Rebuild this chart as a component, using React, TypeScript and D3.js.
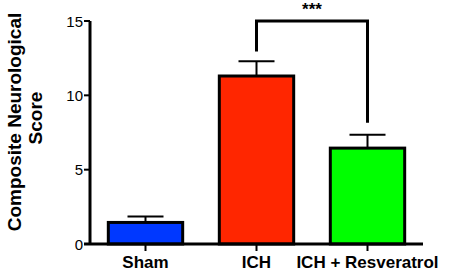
import React from "react";
import * as d3 from "d3";

const categories = ["Sham", "ICH", "ICH + Resveratrol"];
const means = [1.45, 11.3, 6.45];
const sems = [0.4, 1.0, 0.9];
const colors = ["#0038FF", "#FF2600", "#00FF00"];
const yTicks = [0, 5, 10, 15];

const W = 450, H = 273;
const x0 = 90, x1 = 423, yTop = 21, yBot = 244;

export default function App() {
  const x = d3.scaleBand<string>().domain(categories).range([x0, x1]).paddingInner(0.33).paddingOuter(0.165);
  const y = d3.scaleLinear().domain([0, 15]).range([yBot, yTop]);
  const font = "Arial, 'Liberation Sans', sans-serif";
  const bw = x.bandwidth();
  const cx = (c: string) => (x(c) as number) + bw / 2;
  const bx1 = cx("ICH"), bx2 = cx("ICH + Resveratrol");
  return (
    <svg width={W} height={H} style={{ position: "absolute", left: 0, top: 0 }} fontFamily={font}>
      <rect width={W} height={H} fill="#fff" />
      {categories.map((c, i) => (
        <g key={c}>
          <line x1={cx(c)} x2={cx(c)} y1={y(means[i])} y2={y(means[i] + sems[i])} stroke="#000" strokeWidth={2} />
          <line x1={cx(c) - 18} x2={cx(c) + 18} y1={y(means[i] + sems[i])} y2={y(means[i] + sems[i])} stroke="#000" strokeWidth={2} />
          <rect x={x(c)} y={y(means[i])} width={bw} height={yBot - y(means[i])} fill={colors[i]} stroke="#000" strokeWidth={3} />
          <line x1={cx(c)} x2={cx(c)} y1={yBot} y2={yBot + 7} stroke="#000" strokeWidth={2} />
          <text x={cx(c)} y={268} textAnchor="middle" fontWeight="bold" fontSize={17}>{c}</text>
        </g>
      ))}
      <line x1={x0} x2={x0} y1={yTop} y2={yBot} stroke="#000" strokeWidth={3} />
      <line x1={x0 - 6} x2={x1} y1={yBot} y2={yBot} stroke="#000" strokeWidth={3} />
      {yTicks.map((t) => (
        <g key={t}>
          <line x1={x0 - 6} x2={x0} y1={y(t)} y2={y(t)} stroke="#000" strokeWidth={2} />
          <text x={x0 - 7} y={y(t) + 5.5} textAnchor="end" fontSize={15}>{t}</text>
        </g>
      ))}
      <path d={`M${bx1},${y(12.95)}V${y(15)}H${bx2}V${y(8.15)}`} fill="none" stroke="#000" strokeWidth={3} />
      <text x={(bx1 + bx2) / 2} y={15} textAnchor="middle" fontWeight="bold" fontSize={17}>***</text>
      <text transform={`translate(21,122) rotate(-90)`} textAnchor="middle" fontWeight="bold" fontSize={19}>Composite Neurological</text>
      <text transform={`translate(42,118) rotate(-90)`} textAnchor="middle" fontWeight="bold" fontSize={19}>Score</text>
    </svg>
  );
}
